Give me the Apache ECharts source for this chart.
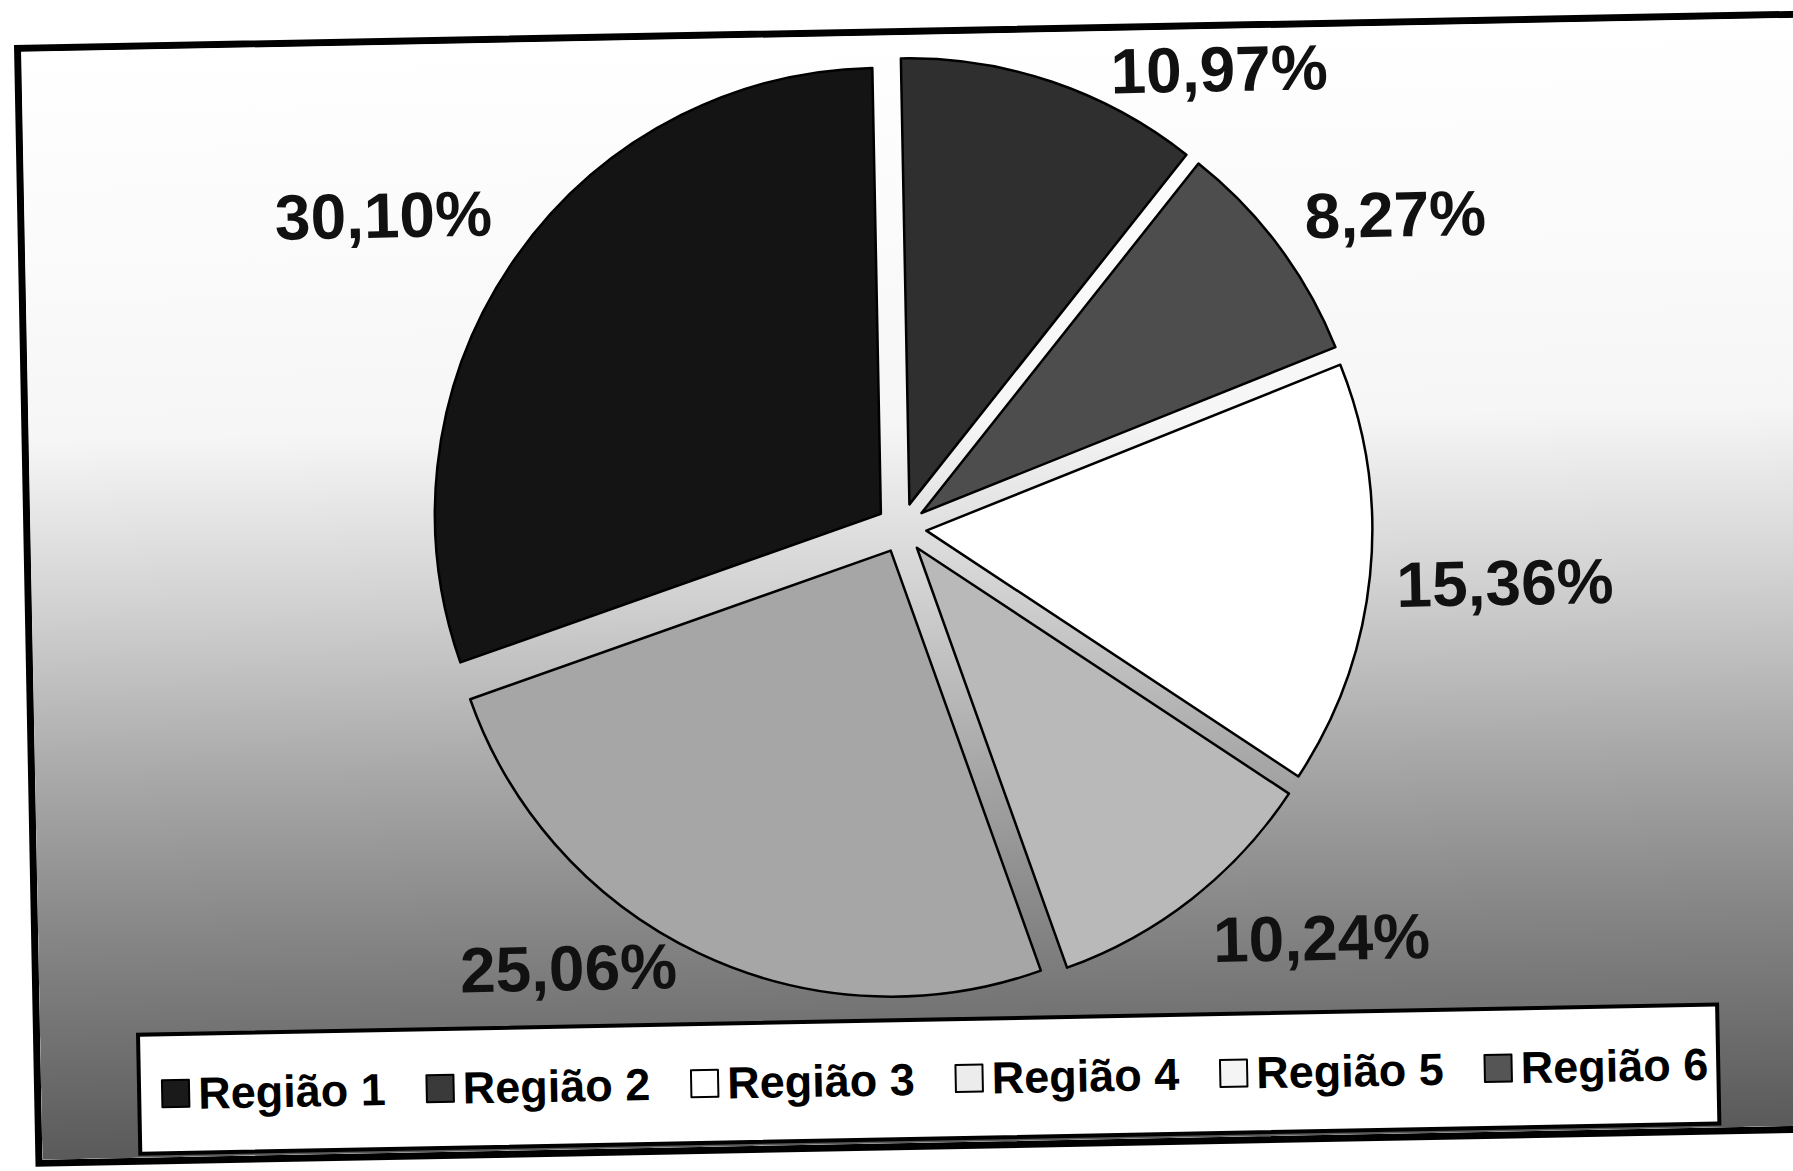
<!DOCTYPE html>
<html lang="pt">
<head>
    <meta charset="UTF-8">
    <title>Regiões</title>
    <script src="https://cdn.jsdelivr.net/npm/echarts@6/dist/echarts.min.js"></script>
    <style>
        *{
            margin: 0;
            padding: 0;
        }
        html, body{
            width: 100%;
            height: 100%;
            overflow: hidden;
            background: #fff;
        }
        .frame{
            position: absolute;
            left: 14px;
            top: 45px;
            width: 1800px;
            height: 1122px;
            border: 7px solid #000;
            box-sizing: border-box;
            transform-origin: 0 0;
            transform: rotate(-1.1deg);
        }
        .container{
            width: 100%;
            height: 100%;
        }
    </style>
</head>
<body>
<div class="frame"><div class="container"></div></div>
<script>
    // data
    let regions = ['Região 1', 'Região 2', 'Região 3', 'Região 4', 'Região 5', 'Região 6'];
    let shares = [10.97, 8.27, 15.36, 10.24, 25.06, 30.10];

    // looks
    let sliceColors = ['#2f2f2f', '#4d4d4d', '#ffffff', '#b9b9b9', '#a6a6a6', '#141414'];
    let legendColors = ['#1a1a1a', '#3a3a3a', '#ffffff', '#ececec', '#f4f4f4', '#555555'];
    let labelAngle = [35.8, 58.7, 96.3, 135.4, 218.2, 302.2];
    let labelRadius = [558, 585, 606, 587, 552, 605];
    let cx = 871, cy = 493, radius = 446;

    let container = document.querySelector('.container');
    let mycharts = echarts.init(container, null, {renderer: 'svg'});

    let pieData = regions.map((name, i) => ({
        name,
        value: shares[i],
        selected: true,
        itemStyle: {color: sliceColors[i]}
    }));

    let legendData = regions.map((name, i) => ({
        name,
        itemStyle: {color: legendColors[i], borderColor: '#000', borderWidth: 2}
    }));

    // percentage labels sit outside the slices, as in the scan
    let labels = shares.map((v, i) => {
        let a = labelAngle[i] * Math.PI / 180;
        return {
            type: 'text',
            x: cx + labelRadius[i] * Math.sin(a),
            y: cy - labelRadius[i] * Math.cos(a),
            z: 10,
            style: {
                text: v.toFixed(2).replace('.', ',') + '%',
                fill: '#111',
                fontFamily: 'Liberation Sans',
                fontWeight: 'bold',
                fontSize: 64,
                align: 'center',
                verticalAlign: 'middle'
            }
        };
    });

    let options = {
        animation: false,
        backgroundColor: new echarts.graphic.LinearGradient(0, 0, 0, 1, [
            {offset: 0, color: '#ffffff'},
            {offset: 0.35, color: '#f6f6f6'},
            {offset: 0.5, color: '#d2d2d2'},
            {offset: 0.65, color: '#aaaaaa'},
            {offset: 0.8, color: '#868686'},
            {offset: 1, color: '#5a5a5a'}
        ]),
        graphic: labels,
        legend: {
            data: legendData,
            left: 98,
            top: 985,
            orient: 'horizontal',
            icon: 'rect',
            itemWidth: 27,
            itemHeight: 27,
            itemGap: 40,
            padding: [37, 10, 37, 22],
            backgroundColor: '#fff',
            borderColor: '#000',
            borderWidth: 4,
            selectedMode: false,
            textStyle: {
                fontFamily: 'Liberation Sans',
                fontWeight: 'bold',
                fontSize: 45,
                color: '#000',
                padding: [0, 0, 0, 4]
            }
        },
        series: [{
            type: 'pie',
            center: [cx, cy],
            radius: radius,
            startAngle: 90,
            clockwise: true,
            selectedMode: 'multiple',
            selectedOffset: 25,
            avoidLabelOverlap: false,
            data: pieData,
            itemStyle: {borderColor: '#000', borderWidth: 2.5},
            emphasis: {disabled: true},
            select: {itemStyle: {borderColor: '#000', borderWidth: 2.5}},
            label: {show: false},
            labelLine: {show: false}
        }]
    };

    mycharts.setOption(options);
</script>
</body>
</html>
